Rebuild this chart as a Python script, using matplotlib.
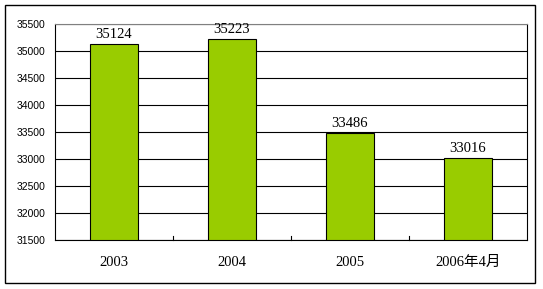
import matplotlib
matplotlib.use('Agg')
import matplotlib.pyplot as plt
from matplotlib.patches import Rectangle

categories = ['2003', '2004', '2005', '2006年4月']
values = [35124, 35223, 33486, 33016]
yticks = list(range(31500, 36000, 500))

W, H = 543, 289
fig = plt.figure(figsize=(W / 100, H / 100), dpi=100)
fig.patches.append(Rectangle((5 / W, 1 - 283 / H), 530 / W, 278 / H,
                             transform=fig.transFigure, fill=False,
                             edgecolor='black', linewidth=1))
ax = fig.add_axes([55 / W, 1 - 240 / H, 472 / W, 216 / H])

x = range(len(categories))
ax.bar(x, [v - 31500 for v in values], bottom=31500, width=0.4,
       color='#99CC00', edgecolor='black', linewidth=0.8, zorder=3)
for i, v in enumerate(values):
    ax.text(i, v + 60, str(v), ha='center', va='bottom', fontsize=10.5,
            family=['Liberation Serif', 'Noto Sans CJK SC'])

ax.set_xlim(-0.5, len(categories) - 0.5)
ax.set_ylim(31500, 35500)
ax.set_yticks(yticks)
ax.set_yticklabels([str(t) for t in yticks], fontsize=7.5,
                   family='Liberation Sans')
ax.tick_params(axis='y', length=0, pad=7)
ax.set_xticks([])
# category boundary tick marks at the bottom
for b in [0.5, 1.5, 2.5]:
    ax.plot([b, b], [31500, 31580], color='black', linewidth=0.8,
            clip_on=False, zorder=4)
for i, c in enumerate(categories):
    ax.text(i, 31500 - 420, c, ha='center', va='center', fontsize=10.5,
            family=['Liberation Serif', 'Noto Sans CJK SC'])
ax.yaxis.grid(True, color='black', linewidth=0.8, zorder=0)
for s in ['left', 'bottom', 'right']:
    ax.spines[s].set_color('black')
    ax.spines[s].set_linewidth(0.8)
ax.spines['top'].set_color('#808080')
ax.spines['top'].set_linewidth(0.8)

fig.savefig('out.png', dpi=100)
